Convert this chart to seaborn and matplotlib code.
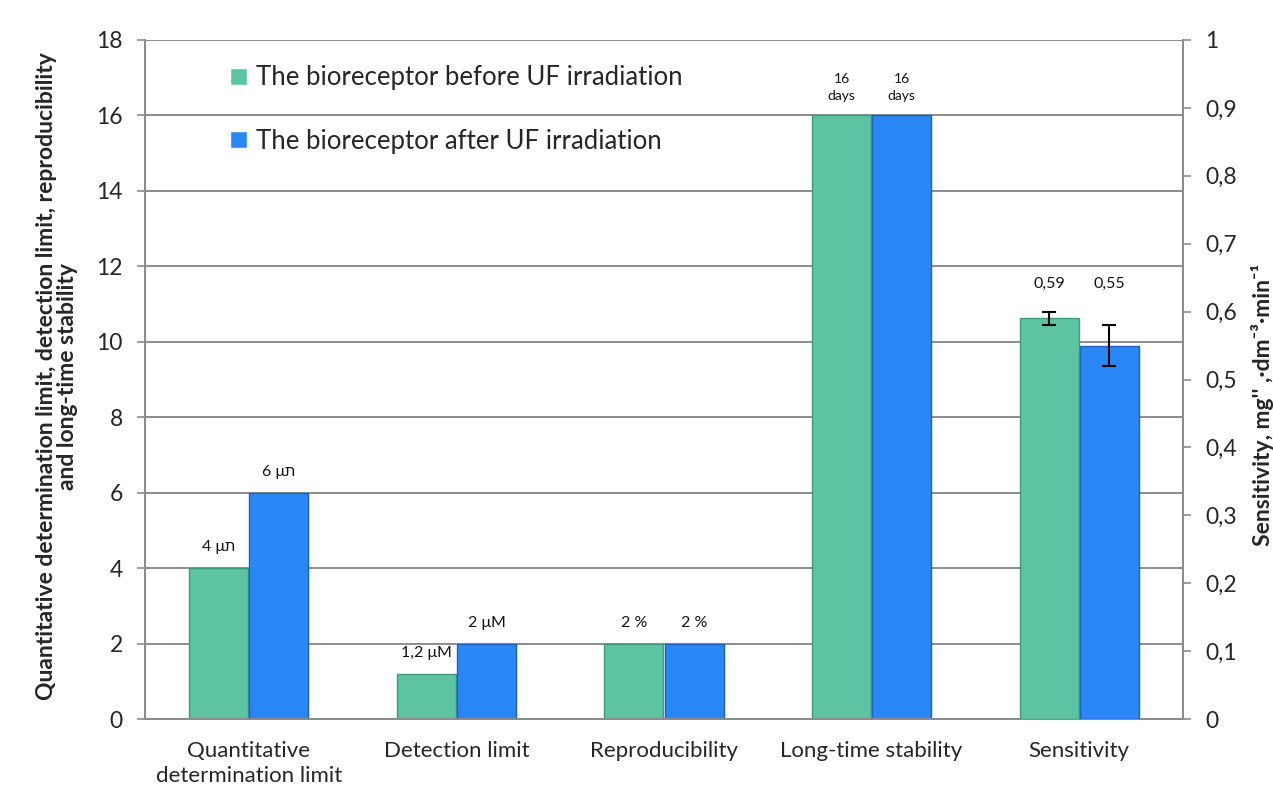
import numpy as np
import pandas as pd
import matplotlib.pyplot as plt
import seaborn as sns

# data
categories = ['Quantitative\ndetermination limit', 'Detection limit', 'Reproducibility',
              'Long-time stability', 'Sensitivity']
groups = ['The bioreceptor before UF irradiation', 'The bioreceptor after UF irradiation']
before_vals = [4, 1.2, 2, 16]
after_vals = [6, 2, 2, 16]
before_labels = ['4 μת', '1,2 μM', '2 %', '16\ndays']
after_labels = ['6 μת', '2 μM', '2 %', '16\ndays']
sens_vals = [0.59, 0.55]
sens_err = [0.01, 0.03]
sens_labels = ['0,59', '0,55']

colors = ['#5cc4a2', '#2a87f6']
edges = ['#3e9a7d', '#1b63c2']

sns.set_theme(style='white')
plt.rcParams['font.family'] = ['Lato', 'DejaVu Sans']

left_df = pd.DataFrame({
    'metric': categories[:4] * 2,
    'group': [groups[0]] * 4 + [groups[1]] * 4,
    'value': before_vals + after_vals,
})
sens_df = pd.DataFrame({'metric': [categories[4]] * 2, 'group': groups, 'value': sens_vals})

fig = plt.figure(figsize=(12.73, 7.87), dpi=100)
ax = fig.add_axes([145 / 1273, 68 / 787, 1038 / 1273, 679 / 787])
ax2 = ax.twinx()

sns.barplot(data=left_df, x='metric', y='value', hue='group', order=categories,
            hue_order=groups, palette=colors, saturation=1, width=0.58, gap=0.02,
            ax=ax, zorder=3)
sns.barplot(data=sens_df, x='metric', y='value', hue='group', order=categories,
            hue_order=groups, palette=colors, saturation=1, width=0.58, gap=0.02,
            ax=ax2, legend=False, zorder=3)

ax.set_ylim(0, 18)
ax2.set_ylim(0, 1)
ax.set_xlim(-0.5, 4.5)

for axis in (ax, ax2):
    for cont, ec in zip(axis.containers, edges):
        for bar in cont:
            bar.set_edgecolor(ec)
            bar.set_linewidth(1.0)

# value labels on left axis bars
for cont, labs in zip(ax.containers, [before_labels, after_labels]):
    for bar, lab in zip(cont, labs):
        cx = bar.get_x() + bar.get_width() / 2
        fs = 10 if '\n' in lab else 11.5
        ax.annotate(lab, (cx, bar.get_height()), xytext=(0, 10), textcoords='offset points',
                    ha='center', va='bottom', fontsize=fs, color='#111111',
                    family=['Lato', 'DejaVu Sans'], linespacing=1.5)

# sensitivity error bars and labels
for cont, err, lab in zip(ax2.containers, sens_err, sens_labels):
    bar = cont[0]
    cx = bar.get_x() + bar.get_width() / 2
    h = bar.get_height()
    ax2.errorbar(cx, h, yerr=err, fmt='none', ecolor='black', elinewidth=1.5,
                 capsize=5, capthick=1.5, zorder=5)
    ax2.annotate(lab, (cx, 0.63), ha='center', va='bottom', fontsize=11.5, color='#111111')

# grid lines and ticks
ax.set_yticks(np.arange(0, 19, 2))
ax.set_yticklabels([str(v) for v in range(0, 19, 2)], fontsize=16.5)
for v in range(2, 19, 2):
    ax.axhline(v, color='#8c8c8c', lw=1.4, zorder=1)
ax2.set_yticks(np.arange(0, 1.01, 0.1))
ax2.set_yticklabels(['0' if i == 0 else ('1' if i == 10 else f'0,{i}') for i in range(11)],
                    fontsize=16.5)

ax.set_xticks(range(len(categories)))
ax.set_xticklabels(categories, fontsize=16, linespacing=1.3)
ax.set_xticks(np.arange(-0.5, 4.6, 1), minor=True)
ax.tick_params(axis='x', which='major', length=0, pad=16)
ax.tick_params(axis='x', which='minor', length=6, color='#8c8c8c', width=1.2, direction='out')
ax.tick_params(axis='y', length=6, color='#8c8c8c', width=1.2, direction='out', pad=10)
ax2.tick_params(axis='y', length=6, color='#8c8c8c', width=1.2, direction='out', pad=10)

for axis in (ax, ax2):
    axis.spines['top'].set_visible(False)
    for s in ('left', 'right', 'bottom'):
        axis.spines[s].set_color('#8c8c8c')
        axis.spines[s].set_linewidth(1.4)

ax.set_xlabel('')
ax.set_ylabel('')
ax2.set_ylabel('')
fig.text(57 / 1273, (787 - 376) / 787,
         'Quantitative determination limit, detection limit, reproducibility\nand long-time stability',
         rotation=90, ha='center', va='center', fontsize=16.5, fontweight='bold',
         linespacing=1.0, multialignment='center')
fig.text(1262 / 1273, (787 - 405) / 787, "Sensitivity, mg'' ,·dm⁻³·min⁻¹", rotation=90,
         ha='center', va='center', fontsize=16.5, fontweight='bold')

leg = ax.legend(loc='upper left', bbox_to_anchor=(0.072, 0.978), frameon=False, fontsize=18.5,
                handlelength=0.65, handleheight=0.65, handletextpad=0.35, labelspacing=1.5,
                borderaxespad=0)

fig.savefig('out.png', dpi=100)
plt.close(fig)
